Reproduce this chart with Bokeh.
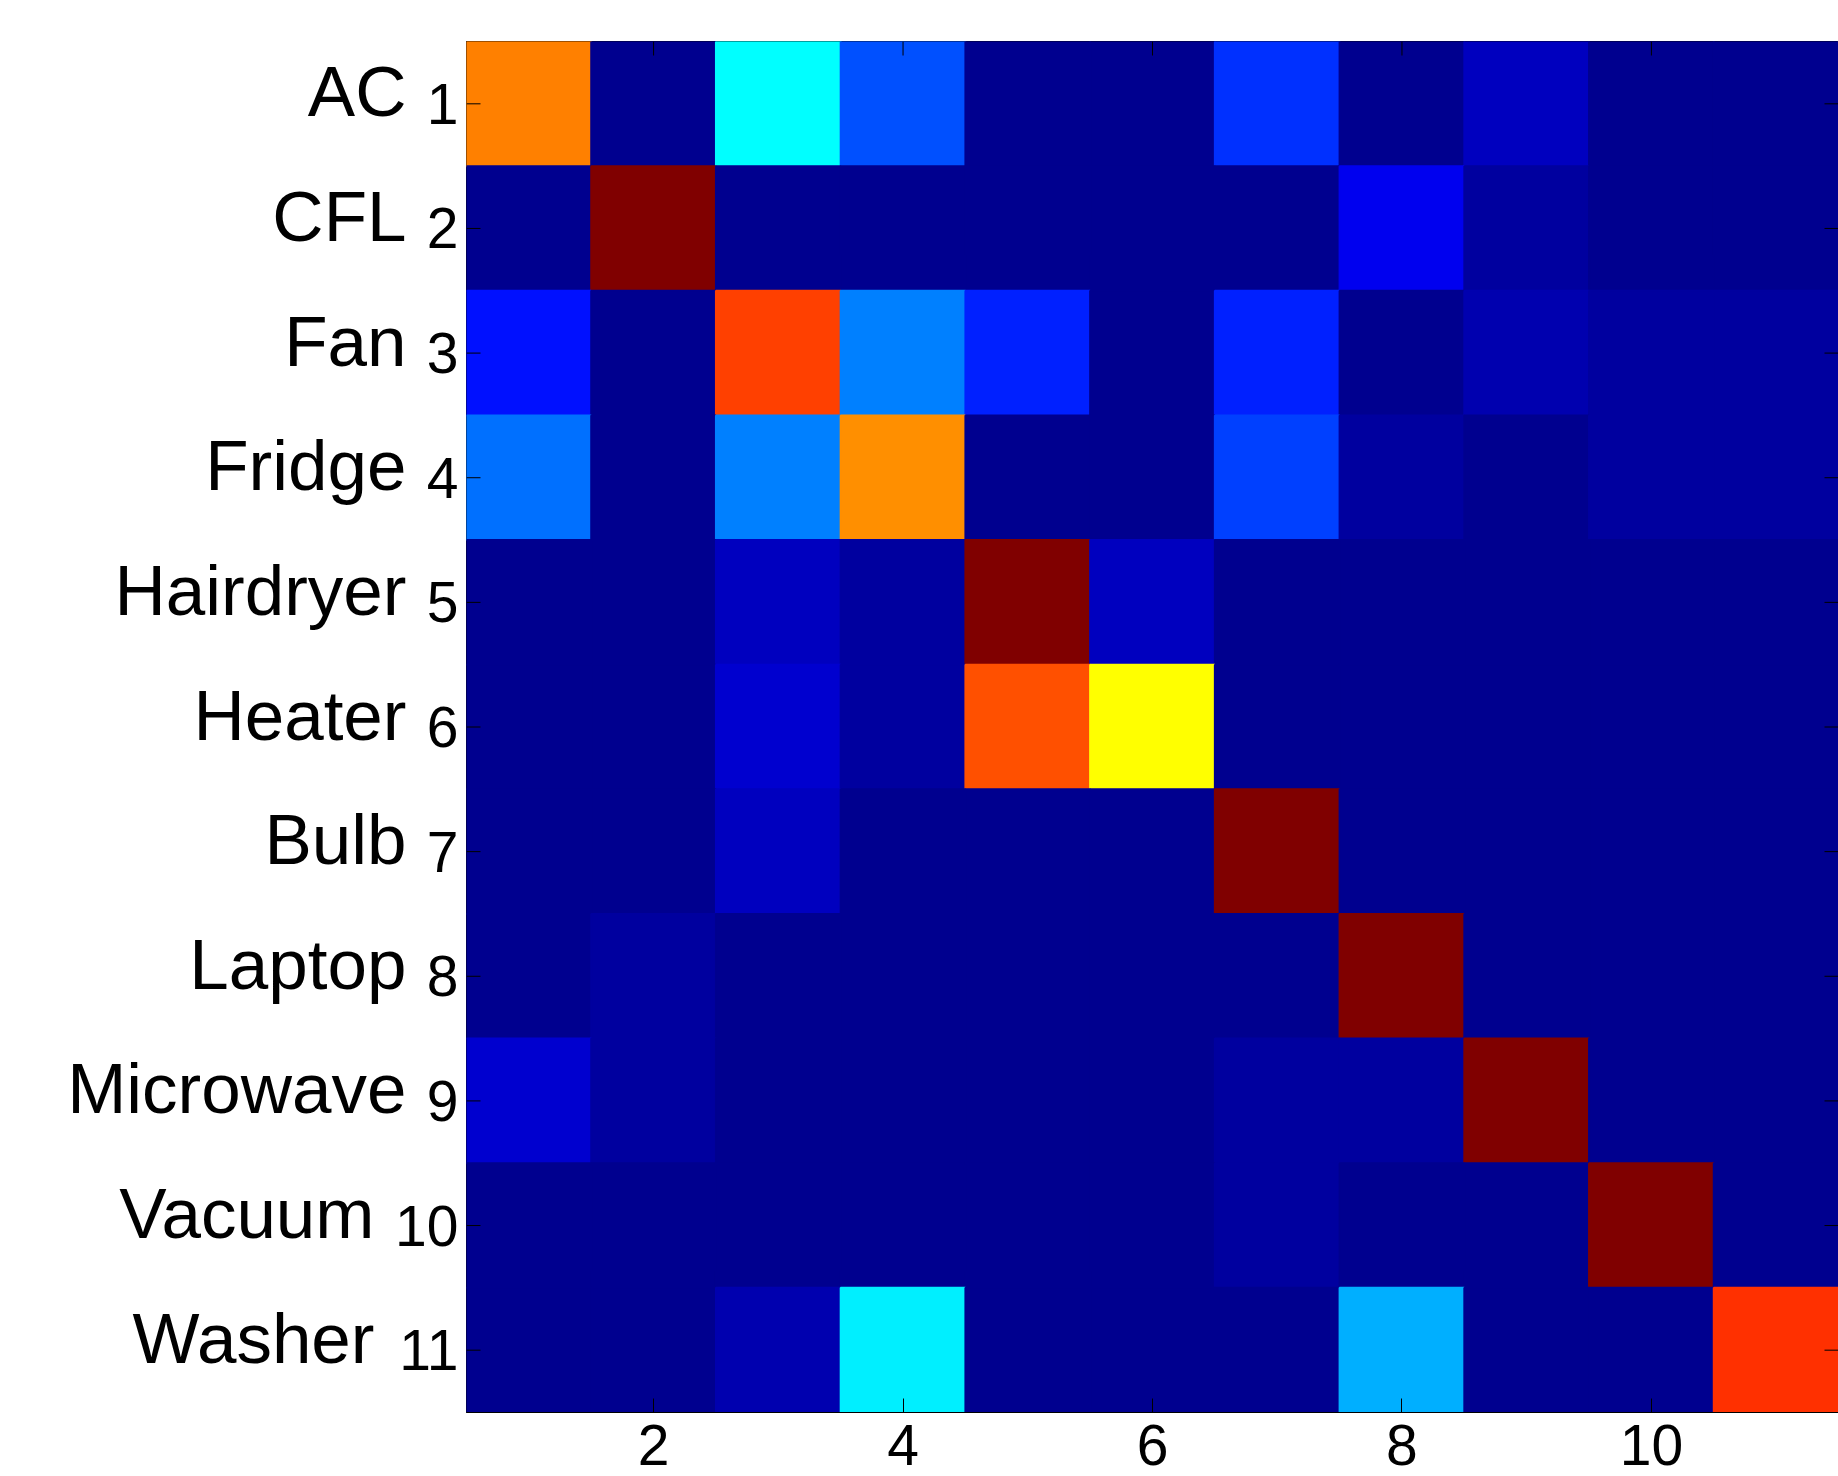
from bokeh.plotting import figure
from bokeh.layouts import row
from bokeh.models import ColumnDataSource, LinearColorMapper, FixedTicker, Range1d
from bokeh.core.properties import value
from bokeh.embed import file_html
from bokeh.resources import INLINE

# Appliance classes (true class = row, predicted class = column)
appliances = ["AC", "CFL", "Fan", "Fridge", "Hairdryer", "Heater",
              "Bulb", "Laptop", "Microwave", "Vacuum", "Washer"]

# Normalised confusion rates, one list per true class
ac        = [0.74, 0.00, 0.365, 0.19, 0.00, 0.00, 0.165, 0.00, 0.05, 0.00, 0.00]
cfl       = [0.00, 1.00, 0.00, 0.00, 0.00, 0.00, 0.00, 0.10, 0.02, 0.00, 0.00]
fan       = [0.14, 0.00, 0.81, 0.24, 0.155, 0.00, 0.145, 0.00, 0.045, 0.02, 0.02]
fridge    = [0.23, 0.00, 0.235, 0.72, 0.00, 0.00, 0.185, 0.02, 0.005, 0.02, 0.02]
hairdryer = [0.00, 0.00, 0.06, 0.02, 1.00, 0.05, 0.00, 0.00, 0.00, 0.00, 0.00]
heater    = [0.00, 0.00, 0.065, 0.02, 0.795, 0.615, 0.00, 0.00, 0.00, 0.00, 0.00]
bulb      = [0.00, 0.00, 0.06, 0.00, 0.00, 0.00, 1.00, 0.00, 0.00, 0.00, 0.00]
laptop    = [0.00, 0.02, 0.00, 0.00, 0.00, 0.00, 0.00, 1.00, 0.00, 0.00, 0.00]
microwave = [0.07, 0.02, 0.00, 0.00, 0.00, 0.00, 0.02, 0.02, 1.00, 0.00, 0.00]
vacuum    = [0.00, 0.00, 0.00, 0.00, 0.00, 0.00, 0.02, 0.00, 0.00, 1.00, 0.00]
washer    = [0.00, 0.00, 0.04, 0.355, 0.00, 0.00, 0.00, 0.285, 0.00, 0.00, 0.825]

x_ticks = [2, 4, 6, 8, 10]
y_ticks = list(range(1, 12))

rows = [ac, cfl, fan, fridge, hairdryer, heater, bulb, laptop,
        microwave, vacuum, washer]


def jet(m=64):
    """MATLAB-style jet colormap with m entries, as hex strings."""
    n = m // 4
    u = [i / n for i in range(1, n + 1)] + [1.0] * (n - 1) + \
        [i / n for i in range(n, 0, -1)]
    base = (n + 1) // 2 - (1 if m % 4 == 1 else 0)
    g = [base + k for k in range(1, len(u) + 1)]
    r = [k + n for k in g]
    b = [k - n for k in g]
    cmap = [[0.0, 0.0, 0.0] for _ in range(m)]
    for chan, idxs in ((0, r), (1, g), (2, b)):
        for idx, uu in zip(idxs, u):
            if 1 <= idx <= m:
                cmap[idx - 1][chan] = uu
    return ["#%02x%02x%02x" % tuple(int(round(c * 255)) for c in rgb)
            for rgb in cmap]


xs, ys, vals = [], [], []
for i, vals_row in enumerate(rows):
    for j, v in enumerate(vals_row):
        xs.append(j + 1)
        ys.append(i + 1)
        vals.append(v)

source = ColumnDataSource(dict(x=xs, y=ys, value=vals))
mapper = LinearColorMapper(palette=jet(64), low=0.0, high=1.0)

FONT = "Liberation Sans"
TICK_SIZE = "57px"
NAME_SIZE = "71px"

LEFT_W = 466          # width of the label strip to the left of the matrix
FRAME_W = 1372
TOP, BOTTOM = 41, 64
HEIGHT = 1476
FRAME_H = HEIGHT - TOP - BOTTOM

x_range = Range1d(0.5, 11.5)
y_range = Range1d(11.5, 0.5)

# ---- matrix -----------------------------------------------------------
p = figure(width=FRAME_W, height=HEIGHT, x_range=x_range, y_range=y_range,
           output_backend="svg", toolbar_location=None, y_axis_location=None,
           min_border_left=0, min_border_right=0,
           min_border_top=TOP, min_border_bottom=BOTTOM)

p.rect(x="x", y="y", width=1, height=1, source=source,
       fill_color={"field": "value", "transform": mapper},
       line_color={"field": "value", "transform": mapper}, line_width=2)

p.grid.visible = False
p.outline_line_color = "black"
p.outline_line_width = 1.2

ax = p.xaxis[0]
ax.ticker = FixedTicker(ticks=x_ticks)
ax.major_tick_in = 14
ax.major_tick_out = 0
ax.minor_tick_line_color = None
ax.axis_line_color = "black"
ax.major_label_text_font = FONT
ax.major_label_text_font_size = TICK_SIZE
ax.major_label_text_color = "black"
ax.major_label_standoff = 12

# inward tick marks on the remaining three sides of the box
tick_x = 14 * (x_range.end - x_range.start) / FRAME_W
tick_y = 14 * (y_range.start - y_range.end) / FRAME_H
p.segment(x0=x_ticks, y0=[y_range.end] * len(x_ticks),
          x1=x_ticks, y1=[y_range.end + tick_y] * len(x_ticks),
          line_color="black", line_width=1)
p.segment(x0=[x_range.start] * len(y_ticks), y0=y_ticks,
          x1=[x_range.start + tick_x] * len(y_ticks), y1=y_ticks,
          line_color="black", line_width=1)
p.segment(x0=[x_range.end] * len(y_ticks), y0=y_ticks,
          x1=[x_range.end - tick_x] * len(y_ticks), y1=y_ticks,
          line_color="black", line_width=1)

# ---- row labels: class name followed by its index ---------------------
lab = figure(width=LEFT_W, height=HEIGHT, x_range=Range1d(0, LEFT_W),
             y_range=y_range, output_backend="svg", toolbar_location=None,
             x_axis_location=None, y_axis_location=None,
             min_border_left=0, min_border_right=0,
             min_border_top=TOP, min_border_bottom=BOTTOM)
lab.grid.visible = False
lab.outline_line_color = None

num_text = [str(t) for t in y_ticks]
num_right = LEFT_W - 8
name_right = [num_right - 32 * len(s) - 20 for s in num_text]

lab.text(x=[num_right] * len(y_ticks), y=y_ticks, text=num_text,
         text_align="right", text_baseline="middle",
         text_font=value(FONT), text_font_size=TICK_SIZE, text_color="black")
lab.text(x=name_right, y=y_ticks, text=appliances, y_offset=-12,
         text_align="right", text_baseline="middle",
         text_font=value(FONT), text_font_size=NAME_SIZE, text_color="black")

layout = row(lab, p, spacing=0)
open("out.html", "w").write(file_html(layout, INLINE))
